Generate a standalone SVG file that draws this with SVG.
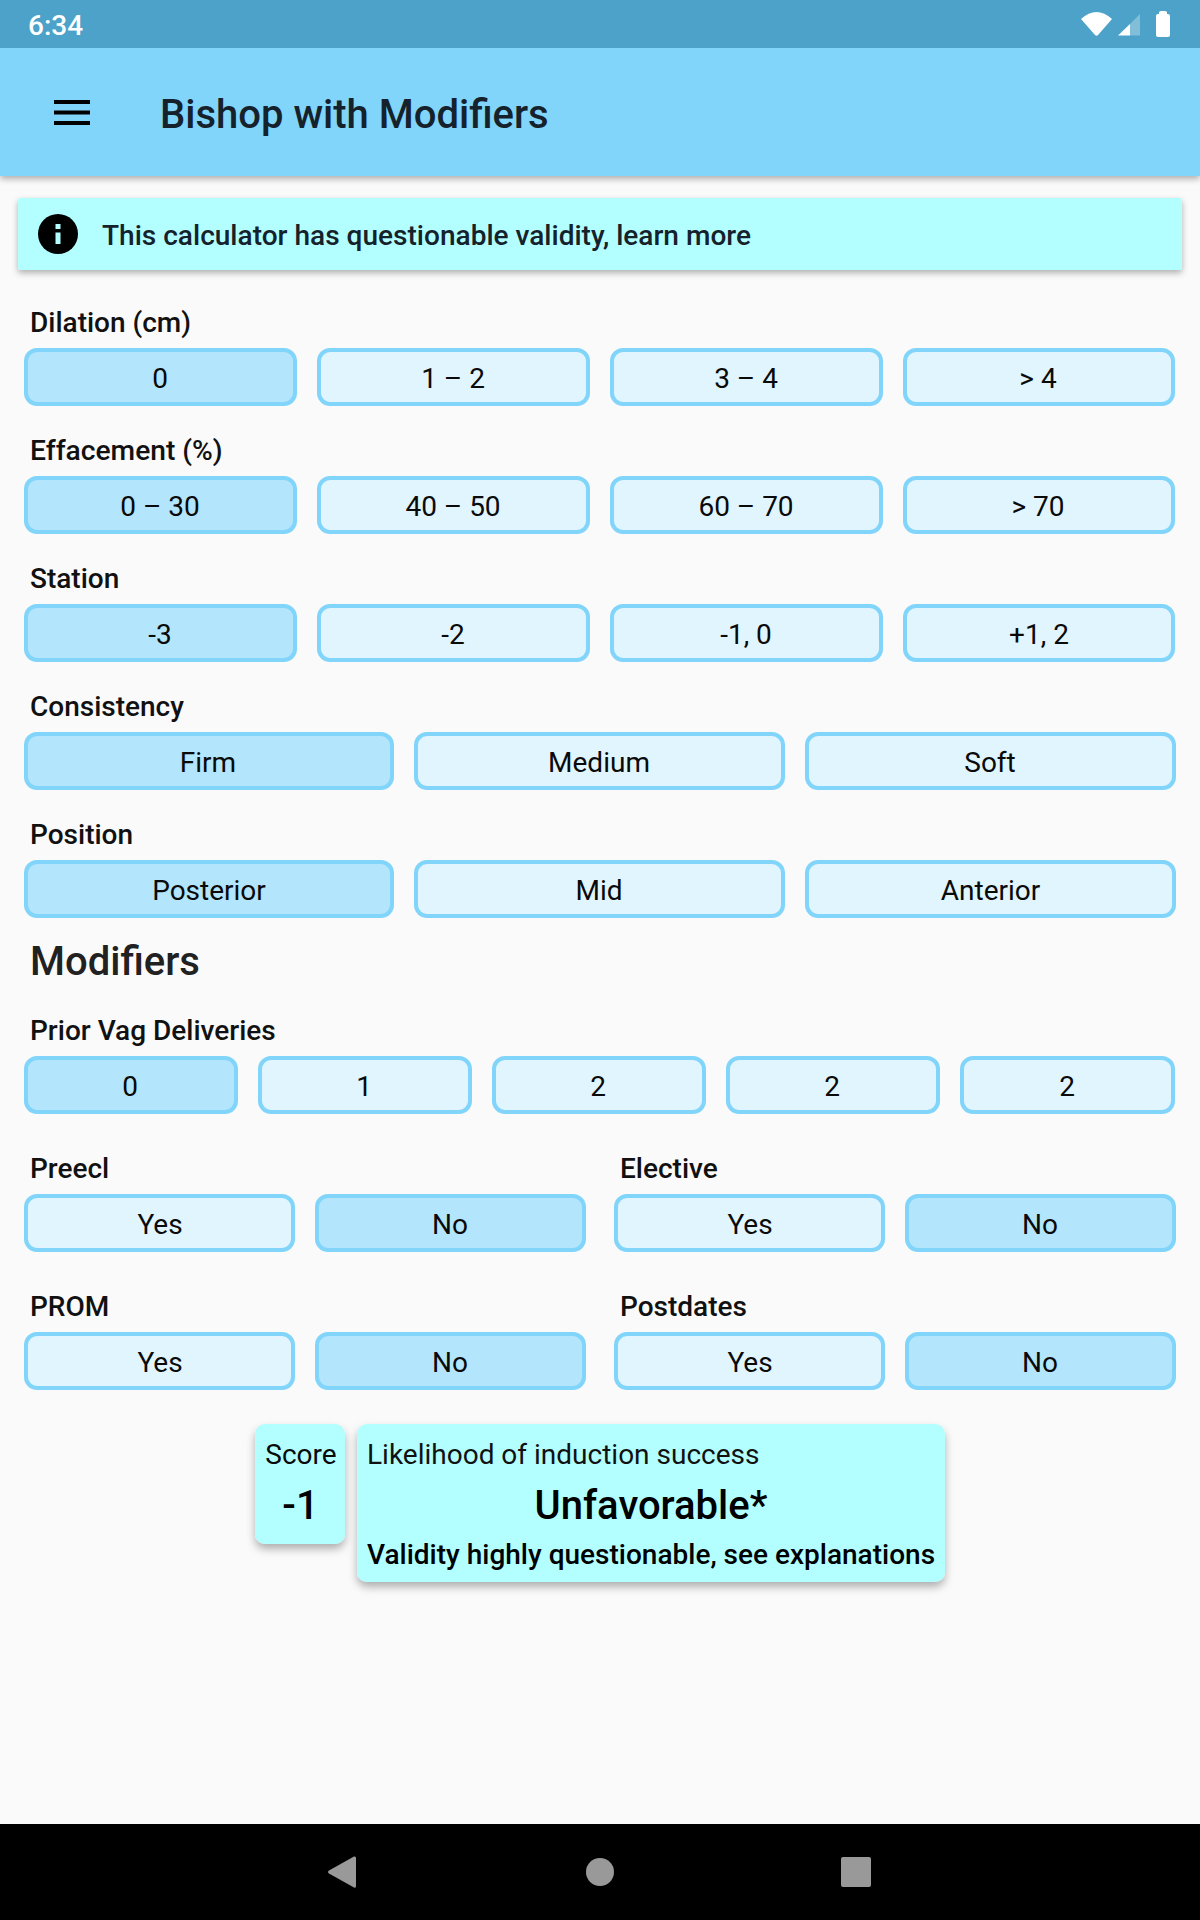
<svg xmlns="http://www.w3.org/2000/svg" width="1200" height="1920" viewBox="0 0 1200 1920">
<style>
text{font-family:Roboto,"Noto Sans",sans-serif;fill:#000}
.l{font-size:28px;font-weight:500;fill:#111}
.t{font-size:28px;text-anchor:middle;fill:#0a0a0a}
.on{fill:#B3E5FC;stroke:#81D4FA;stroke-width:4}
.off{fill:#E1F5FE;stroke:#81D4FA;stroke-width:4}
.nav{fill:#999}
</style>
<defs>
<filter id="s" x="-10%" y="-20%" width="120%" height="150%"><feDropShadow dx="0" dy="3" stdDeviation="3" flood-color="#000" flood-opacity=".3"/></filter>
<filter id="s2" x="-10%" y="-20%" width="120%" height="150%"><feDropShadow dx="0" dy="5" stdDeviation="4" flood-color="#000" flood-opacity=".3"/></filter>
</defs>
<rect width="1200" height="1920" fill="#FAFAFA"/>
<g id="appbar">
<rect y="48" width="1200" height="128" fill="#81D4FA" filter="url(#s)"/>
<rect width="1200" height="48" fill="#4CA2C8"/>
<text x="28" y="35" style="font-size:28px;font-weight:500;fill:#fff">6:34</text>
<path d="M1081 19Q1096.500 5 1112 19L1098 35Q1096.500 36.500 1095 35Z" fill="#fff"/>
<path d="M1118 35.500L1130 24V35.500Z" fill="#fff"/>
<path d="M1130 24L1140 14V35.500H1130Z" fill="#fff" fill-opacity=".3"/>
<path d="M1159 14V12.500Q1159 11 1161 11H1165Q1167 11 1167 12.500V14H1168Q1170 14 1170 16V35Q1170 37 1168 37H1158Q1156 37 1156 35V16Q1156 14 1158 14Z" fill="#fff"/>
<path d="M54 100H90V104H54ZM54 110.500H90V114.500H54ZM54 121H90V125H54Z" fill="#000"/>
<text x="160" y="128" style="font-size:40px;font-weight:500;fill:#15222B">Bishop with Modifiers</text>
</g>
<g id="banner">
<rect x="18" y="198" width="1164" height="72" rx="3" fill="#B3FFFF" filter="url(#s)"/>
<circle cx="58" cy="234" r="20" fill="#000"/>
<path d="M55.500 224H60.500V229H55.500ZM55.500 232.500H60.500V244H55.500Z" fill="#B3FFFF"/>
<text x="102" y="245" style="font-size:28.050px;font-weight:500;fill:#15222B">This calculator has questionable validity, learn more</text>
</g>
<g id="dilation">
<text class="l" x="30" y="332">Dilation (cm)</text>
<rect class="on" x="26" y="350" width="269" height="54" rx="11"/><text class="t" x="160" y="388">0</text>
<rect class="off" x="319" y="350" width="269" height="54" rx="11"/><text class="t" x="453" y="388">1 – 2</text>
<rect class="off" x="612" y="350" width="269" height="54" rx="11"/><text class="t" x="746" y="388">3 – 4</text>
<rect class="off" x="905" y="350" width="268" height="54" rx="11"/><text class="t" x="1038" y="388">&gt; 4</text>
</g>
<g id="effacement">
<text class="l" x="30" y="460" style="font-size:28.200px">Effacement (%)</text>
<rect class="on" x="26" y="478" width="269" height="54" rx="11"/><text class="t" x="160" y="516">0 – 30</text>
<rect class="off" x="319" y="478" width="269" height="54" rx="11"/><text class="t" x="453" y="516">40 – 50</text>
<rect class="off" x="612" y="478" width="269" height="54" rx="11"/><text class="t" x="746" y="516">60 – 70</text>
<rect class="off" x="905" y="478" width="268" height="54" rx="11"/><text class="t" x="1038" y="516">&gt; 70</text>
</g>
<g id="station">
<text class="l" x="30" y="588">Station</text>
<rect class="on" x="26" y="606" width="269" height="54" rx="11"/><text class="t" x="160" y="644">-3</text>
<rect class="off" x="319" y="606" width="269" height="54" rx="11"/><text class="t" x="453" y="644">-2</text>
<rect class="off" x="612" y="606" width="269" height="54" rx="11"/><text class="t" x="746" y="644">-1, 0</text>
<rect class="off" x="905" y="606" width="268" height="54" rx="11"/><text class="t" x="1039" y="644">+1, 2</text>
</g>
<g id="consistency">
<text class="l" x="30" y="716">Consistency</text>
<rect class="on" x="26" y="734" width="366" height="54" rx="11"/><text class="t" x="208" y="772">Firm</text>
<rect class="off" x="416" y="734" width="367" height="54" rx="11"/><text class="t" x="599" y="772">Medium</text>
<rect class="off" x="807" y="734" width="367" height="54" rx="11"/><text class="t" x="990" y="772">Soft</text>
</g>
<g id="position">
<text class="l" x="30" y="844">Position</text>
<rect class="on" x="26" y="862" width="366" height="54" rx="11"/><text class="t" x="209" y="900">Posterior</text>
<rect class="off" x="416" y="862" width="367" height="54" rx="11"/><text class="t" x="599" y="900">Mid</text>
<rect class="off" x="807" y="862" width="367" height="54" rx="11"/><text class="t" x="990.500" y="900">Anterior</text>
</g>
<g id="modifiers"><text x="30" y="975" style="font-size:40px;font-weight:500;fill:#212121">Modifiers</text></g>
<g id="vag">
<text class="l" x="30" y="1040">Prior Vag Deliveries</text>
<rect class="on" x="26" y="1058" width="210" height="54" rx="11"/><text class="t" x="130" y="1096">0</text>
<rect class="off" x="260" y="1058" width="210" height="54" rx="11"/><text class="t" x="364" y="1096">1</text>
<rect class="off" x="494" y="1058" width="210" height="54" rx="11"/><text class="t" x="598" y="1096">2</text>
<rect class="off" x="728" y="1058" width="210" height="54" rx="11"/><text class="t" x="832" y="1096">2</text>
<rect class="off" x="962" y="1058" width="211" height="54" rx="11"/><text class="t" x="1067" y="1096">2</text>
</g>
<g id="preecl">
<text class="l" x="30" y="1178">Preecl</text>
<rect class="off" x="26" y="1196" width="267" height="54" rx="11"/><text class="t" x="160" y="1234">Yes</text>
<rect class="on" x="317" y="1196" width="267" height="54" rx="11"/><text class="t" x="450" y="1234">No</text>
</g>
<g id="elective">
<text class="l" x="620" y="1178">Elective</text>
<rect class="off" x="616" y="1196" width="267" height="54" rx="11"/><text class="t" x="750" y="1234">Yes</text>
<rect class="on" x="907" y="1196" width="267" height="54" rx="11"/><text class="t" x="1040" y="1234">No</text>
</g>
<g id="prom">
<text class="l" x="30" y="1316">PROM</text>
<rect class="off" x="26" y="1334" width="267" height="54" rx="11"/><text class="t" x="160" y="1372">Yes</text>
<rect class="on" x="317" y="1334" width="267" height="54" rx="11"/><text class="t" x="450" y="1372">No</text>
</g>
<g id="postdates">
<text class="l" x="620" y="1316">Postdates</text>
<rect class="off" x="616" y="1334" width="267" height="54" rx="11"/><text class="t" x="750" y="1372">Yes</text>
<rect class="on" x="907" y="1334" width="267" height="54" rx="11"/><text class="t" x="1040" y="1372">No</text>
</g>
<g id="score">
<rect x="255" y="1424" width="90" height="120" rx="10" fill="#B3FFFF" filter="url(#s2)"/>
<text class="t" x="301" y="1464">Score</text>
<text x="300.500" y="1519" style="font-size:40px;font-weight:500;text-anchor:middle">-1</text>
</g>
<g id="result">
<rect x="357" y="1424" width="588" height="158" rx="10" fill="#B3FFFF" filter="url(#s2)"/>
<text x="367" y="1464" style="font-size:28px;fill:#111">Likelihood of induction success</text>
<text x="651" y="1519" style="font-size:40px;font-weight:500;text-anchor:middle">Unfavorable*</text>
<text x="367" y="1564" style="font-size:28px;font-weight:500">Validity highly questionable, see explanations</text>
</g>
<g id="navbar">
<rect y="1824" width="1200" height="96" fill="#000"/>
<path class="nav" d="M354 1856.500Q356 1856 356 1858V1886Q356 1888.500 354 1887.500L329 1873.500Q327 1872 329 1870.500Z"/>
<circle class="nav" cx="600" cy="1872" r="14"/>
<rect class="nav" x="841" y="1857" width="30" height="30" rx="2"/>
</g>
</svg>
